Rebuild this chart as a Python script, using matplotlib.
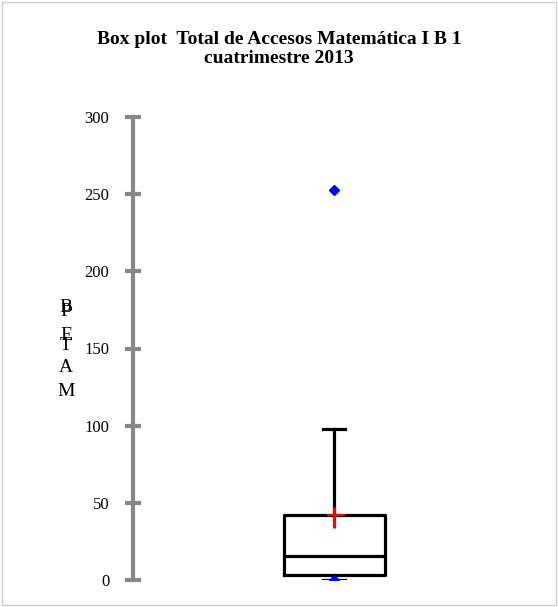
import matplotlib
matplotlib.use("Agg")
import matplotlib.pyplot as plt
from matplotlib.patches import Rectangle

# Data
q1 = 3
median = 15.5
q3 = 42
whisker_low = 0
whisker_high = 98
fliers = [253, 0]
red_low = 34
red_high = 47
y_ticks = [0, 50, 100, 150, 200, 250, 300]
title = "Box plot  Total de Accesos Matemática I B 1\ncuatrimestre 2013"
ylabel_letters = ["B", "P", "E", "T", "A", "M"]

W, H = 558, 607
fig = plt.figure(figsize=(W / 100, H / 100), dpi=100)
serif = ["Liberation Serif", "DejaVu Serif"]

ax = fig.add_axes([133 / W, (H - 580) / H, 407 / W, (580 - 117) / H])
ax.set_ylim(0, 300)
ax.set_xlim(0, 1)

stats = [dict(med=median, q1=q1, q3=q3, whislo=whisker_low, whishi=whisker_high,
              fliers=fliers)]
ax.bxp(stats, positions=[0.494], widths=0.248, showfliers=True,
       boxprops=dict(color="black", linewidth=2.3),
       medianprops=dict(color="black", linewidth=2.3),
       whiskerprops=dict(color="black", linewidth=2.3),
       capprops=dict(color="black", linewidth=2.3),
       capwidths=0.055,
       flierprops=dict(marker="D", markerfacecolor="#0000ff", markeredgecolor="#0000ff",
                       markersize=5.5))
ax.vlines(0.494, red_low, red_high, color="#ff0000", linewidth=2.3, zorder=5)
ax.hlines(q3, 0.477, 0.52, color="#ff0000", linewidth=1.5, zorder=5)

for s in ["top", "right", "bottom"]:
    ax.spines[s].set_visible(False)
ax.spines["left"].set_color("#888888")
ax.spines["left"].set_linewidth(3)
ax.set_xticks([])
ax.set_yticks(y_ticks)
ax.set_yticklabels([str(v) for v in y_ticks], fontfamily=serif, fontsize=12)
ax.tick_params(axis="y", direction="inout", length=12, width=3, color="#888888", pad=11)

fig.text(0.5, 1 - 49 / H, title, ha="center", va="center", fontfamily=serif,
         fontsize=14, fontweight="bold", linespacing=1.2)

ys = [308, 312, 336, 346, 368, 391]
for letter, yp in zip(ylabel_letters, ys):
    fig.text(66 / W, 1 - yp / H, letter, ha="center", va="center",
             fontfamily=serif, fontsize=14)

fig.patches.append(Rectangle((2 / W, 2 / H), (W - 4) / W, (H - 4) / H,
                             transform=fig.transFigure, fill=False,
                             edgecolor="#d0d0d0", linewidth=1))

fig.savefig("out.png", dpi=100)
